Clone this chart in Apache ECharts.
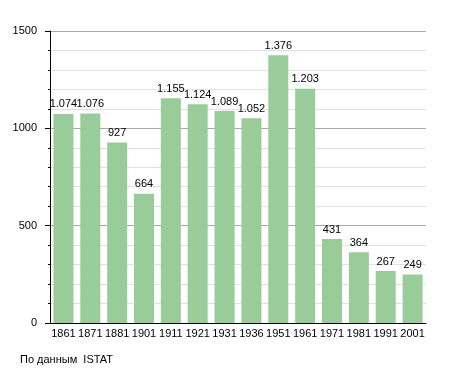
<!DOCTYPE html>
<html><head><meta charset="utf-8">
<script src="https://cdn.jsdelivr.net/npm/echarts@6/dist/echarts.min.js"></script>
<style>html,body{margin:0;padding:0;background:#fff}#c{width:455px;height:373px}</style>
</head><body><div id="c"></div>
<script>
const categories = ['1861','1871','1881','1901','1911','1921','1931','1936','1951','1961','1971','1981','1991','2001'];
const population = [1074,1076,927,664,1155,1124,1089,1052,1376,1203,431,364,267,249];
const yTicks = [0,500,1000,1500];
const sourceText = 'По данным  ISTAT';

const fmt = v => String(v).replace(/\B(?=(\d{3})+(?!\d))/g, '.');
const font = 'Liberation Sans, Arial, sans-serif';
const chart = echarts.init(document.getElementById('c'), null, {renderer:'canvas'});
chart.setOption({
  animation:false,
  textStyle:{fontFamily:font},
  grid:{left:50,right:29,top:31,bottom:50,containLabel:false},
  graphic:[{type:'text',left:20,top:354,style:{text:sourceText,font:'11px '+font,fill:'#000'}}],
  xAxis:{type:'category',data:categories,
    axisLine:{lineStyle:{color:'#000',width:1}},
    axisTick:{show:false},
    axisLabel:{color:'#000',fontSize:11,margin:5,fontFamily:font,interval:0}},
  yAxis:{type:'value',min:yTicks[0],max:yTicks[yTicks.length-1],interval:500,
    axisLine:{show:true,lineStyle:{color:'#000'}},
    axisTick:{show:true,length:5,lineStyle:{color:'#000'}},
    minorTick:{show:true,splitNumber:5,length:2,lineStyle:{color:'#000'}},
    splitLine:{show:true,lineStyle:{color:'#a8a8a8',width:1}},
    minorSplitLine:{show:true,lineStyle:{color:'#e0e0e0',width:1}},
    axisLabel:{color:'#000',fontSize:11,margin:13,fontFamily:font,formatter:v=>String(v)}},
  series:[{type:'bar',data:population,barWidth:20,
    itemStyle:{color:'#99cc99'},
    label:{show:true,position:'top',distance:4,color:'#000',fontSize:11,fontFamily:font,
      formatter:p=>fmt(p.value)}}]
});
</script></body></html>
